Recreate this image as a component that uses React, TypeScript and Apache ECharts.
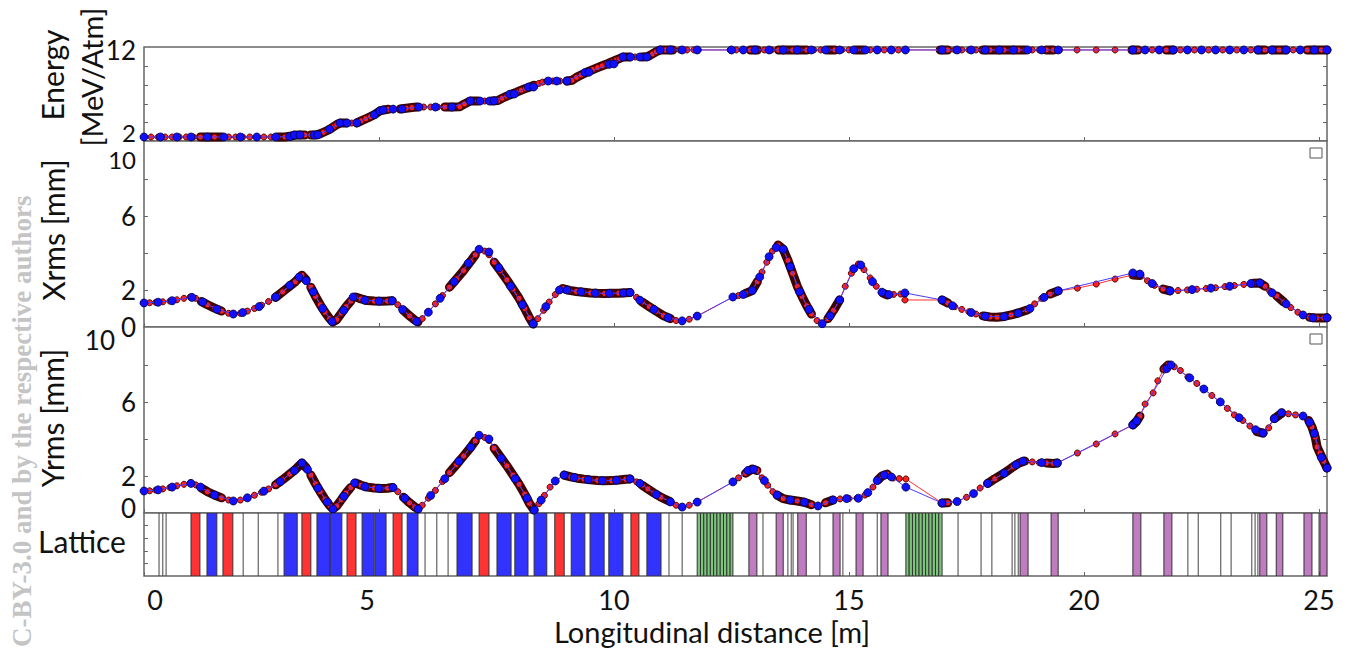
import React, { useEffect, useRef } from "react";
import * as echarts from "echarts";

const X_MAX = 25.17;
const xTickValues = [0, 5, 10, 15, 20, 25];
const energyAxisLabels = [12];
const xrmsAxisLabels = [0, 2, 6];
const yrmsAxisLabels = [2, 6];
const rmsMinorTicks = [2, 4, 6, 8];

// Energy [MeV/Atm] vs s [m]
const energyRed: number[][] = [
  [0, 2], [0.15, 2], [0.3, 2], [0.45, 2], [0.6, 2], [0.75, 2], [0.9, 2], [1.05, 2], [1.2, 2], [1.35, 2],
  [1.5, 2], [1.65, 2], [1.8, 2], [1.95, 2], [2.1, 2], [2.25, 2], [2.4, 2], [2.55, 2], [2.7, 2], [2.85, 2],
  [3.0, 2], [3.1, 2.08], [3.2, 2.2], [3.3, 2.23], [3.42, 2.23], [3.55, 2.23], [3.66, 2.24], [3.74, 2.35],
  [3.82, 2.55], [3.9, 2.75], [3.97, 2.95], [4.04, 3.2], [4.1, 3.42], [4.17, 3.6], [4.3, 3.6], [4.42, 3.6],
  [4.53, 3.62], [4.62, 3.85], [4.72, 4.1], [4.82, 4.35], [4.92, 4.62], [5.02, 5.0], [5.09, 5.1], [5.2, 5.18],
  [5.32, 5.2], [5.45, 5.22], [5.58, 5.3], [5.7, 5.38], [5.81, 5.44], [5.95, 5.44], [6.1, 5.44], [6.25, 5.44],
  [6.4, 5.44], [6.55, 5.44], [6.72, 5.48], [6.82, 5.8], [6.94, 6.13], [7.1, 6.13], [7.25, 6.13], [7.4, 6.13],
  [7.53, 6.2], [7.62, 6.45], [7.72, 6.7], [7.83, 6.94], [7.93, 7.15], [8.03, 7.38], [8.12, 7.58], [8.21, 7.74],
  [8.3, 7.95], [8.4, 8.15], [8.48, 8.3], [8.57, 8.43], [8.7, 8.43], [8.85, 8.43], [9.0, 8.43], [9.11, 8.52],
  [9.2, 8.85], [9.3, 9.12], [9.43, 9.47], [9.55, 9.75], [9.65, 9.97], [9.75, 10.18], [9.85, 10.39], [9.95, 10.62],
  [10.05, 10.85], [10.12, 11.02], [10.19, 11.19], [10.32, 11.19], [10.45, 11.19], [10.6, 11.19], [10.72, 11.25],
  [10.82, 11.55], [10.9, 11.8], [10.98, 12], [11.1, 12], [11.25, 12], [11.4, 12], [11.55, 12], [11.7, 12],
  [11.79, 12], [12.47, 12], [12.6, 12], [12.75, 12], [12.9, 12], [13.05, 12], [13.2, 12], [13.35, 12], [13.5, 12],
  [13.65, 12], [13.8, 12], [13.95, 12], [14.1, 12], [14.25, 12], [14.4, 12], [14.55, 12], [14.7, 12], [14.85, 12],
  [15.0, 12], [15.15, 12], [15.3, 12], [15.45, 12], [15.6, 12], [15.75, 12], [15.9, 12], [16.05, 12], [16.2, 12],
  [16.94, 12], [17.1, 12], [17.25, 12], [17.4, 12], [17.55, 12], [17.7, 12], [17.85, 12], [18.0, 12], [18.15, 12],
  [18.3, 12], [18.45, 12], [18.6, 12], [18.75, 12], [18.9, 12], [19.05, 12], [19.2, 12], [19.35, 12], [19.48, 12],
  [19.85, 12], [20.26, 12], [20.66, 12], [21.02, 12], [21.15, 12], [21.3, 12], [21.45, 12], [21.6, 12], [21.75, 12],
  [21.9, 12], [22.05, 12], [22.2, 12], [22.35, 12], [22.5, 12], [22.65, 12], [22.8, 12], [22.95, 12], [23.1, 12],
  [23.25, 12], [23.4, 12], [23.55, 12], [23.7, 12], [23.85, 12], [24.0, 12], [24.15, 12], [24.3, 12], [24.45, 12],
  [24.6, 12], [24.75, 12], [24.9, 12], [25.05, 12], [25.17, 12],
];

const energyBlue: number[][] = [
  [0, 2], [0.35, 2], [0.7, 2], [1.0, 2], [1.35, 2], [1.7, 2], [2.05, 2], [2.4, 2], [2.8, 2], [3.1, 2.05],
  [3.2, 2.23], [3.32, 2.23], [3.62, 2.23], [3.7, 2.25], [3.95, 2.9], [4.17, 3.6], [4.32, 3.6], [4.53, 3.62],
  [4.9, 4.55], [5.02, 5.0], [5.09, 5.1], [5.3, 5.2], [5.49, 5.22], [5.85, 5.44], [6.2, 5.44], [6.55, 5.44],
  [6.94, 6.13], [7.15, 6.13], [7.35, 6.13], [7.45, 6.15], [7.78, 6.9], [7.88, 6.94], [8.18, 7.74], [8.29, 7.74],
  [8.6, 8.43], [8.78, 8.43], [9.0, 8.43], [9.38, 9.4], [9.47, 9.45], [9.9, 10.35], [10.0, 10.4], [10.19, 11.19],
  [10.35, 11.19], [10.55, 11.19], [10.7, 11.19], [10.98, 12], [11.2, 12], [11.45, 12], [11.77, 12], [12.5, 12],
  [12.75, 12], [13.0, 12], [13.3, 12], [13.6, 12], [13.9, 12], [14.2, 12], [14.5, 12], [14.8, 12], [15.1, 12],
  [15.35, 12], [15.6, 12], [15.9, 12], [16.2, 12], [16.98, 12], [17.3, 12], [17.6, 12], [17.9, 12], [18.2, 12],
  [18.5, 12], [18.8, 12], [19.1, 12], [19.45, 12], [21.04, 12], [21.3, 12], [21.6, 12], [21.9, 12], [22.2, 12],
  [22.5, 12], [22.8, 12], [23.1, 12], [23.4, 12], [23.7, 12], [24.0, 12], [24.3, 12], [24.6, 12], [24.9, 12],
  [25.17, 12],
];

// Xrms [mm]
const xrmsRed: number[][] = [
  [0, 1.3], [0.12, 1.31], [0.25, 1.33], [0.4, 1.36], [0.55, 1.4], [0.7, 1.47], [0.85, 1.55], [0.98, 1.62],
  [1.1, 1.55], [1.22, 1.38], [1.35, 1.2], [1.5, 1.02], [1.65, 0.86], [1.8, 0.74], [1.9, 0.7], [2.05, 0.74],
  [2.2, 0.86], [2.35, 1.0], [2.5, 1.18], [2.65, 1.38], [2.8, 1.6], [2.95, 1.9], [3.1, 2.2], [3.22, 2.45],
  [3.36, 2.8], [3.45, 2.55], [3.55, 2.15], [3.65, 1.65], [3.75, 1.2], [3.85, 0.8], [3.95, 0.45], [4.02, 0.27],
  [4.1, 0.4], [4.2, 0.75], [4.3, 1.1], [4.4, 1.4], [4.5, 1.62], [4.62, 1.52], [4.75, 1.43], [4.9, 1.4],
  [5.05, 1.39], [5.18, 1.4], [5.28, 1.42], [5.4, 1.2], [5.52, 0.9], [5.65, 0.6], [5.76, 0.38], [5.83, 0.27],
  [5.92, 0.45], [6.05, 0.82], [6.2, 1.25], [6.35, 1.7], [6.5, 2.15], [6.65, 2.6], [6.8, 3.05], [6.95, 3.55],
  [7.05, 3.9], [7.13, 4.2], [7.25, 4.1], [7.34, 3.9], [7.45, 3.5], [7.58, 3.05], [7.72, 2.55], [7.85, 2.05],
  [7.98, 1.55], [8.1, 1.0], [8.2, 0.5], [8.28, 0.16], [8.38, 0.45], [8.5, 0.9], [8.62, 1.35], [8.75, 1.75],
  [8.91, 2.08], [9.05, 1.98], [9.2, 1.92], [9.35, 1.88], [9.5, 1.84], [9.65, 1.82], [9.8, 1.81], [9.95, 1.82],
  [10.1, 1.83], [10.25, 1.85], [10.34, 1.86], [10.48, 1.6], [10.6, 1.35], [10.75, 1.1], [10.9, 0.85],
  [11.05, 0.62], [11.2, 0.45], [11.32, 0.35], [11.45, 0.32], [11.6, 0.42], [11.77, 0.59], [12.53, 1.62],
  [12.65, 1.7], [12.8, 1.82], [12.94, 1.97], [13.05, 2.45], [13.15, 2.97], [13.25, 3.5], [13.37, 4.1],
  [13.49, 4.43], [13.6, 4.2], [13.7, 3.6], [13.8, 2.9], [13.9, 2.2], [14.0, 1.65], [14.1, 1.15], [14.2, 0.7],
  [14.32, 0.35], [14.43, 0.16], [14.55, 0.45], [14.67, 0.9], [14.8, 1.46], [14.92, 2.2], [15.05, 2.9],
  [15.2, 3.4], [15.32, 3.1], [15.45, 2.65], [15.58, 2.2], [15.72, 1.84], [15.81, 1.73], [15.95, 1.76],
  [16.1, 1.78], [16.19, 1.46], [16.98, 1.46], [17.1, 1.3], [17.25, 1.1], [17.4, 0.95], [17.55, 0.82],
  [17.7, 0.7], [17.85, 0.6], [18.0, 0.54], [18.15, 0.53], [18.3, 0.57], [18.45, 0.65], [18.6, 0.76],
  [18.79, 0.92], [18.95, 1.25], [19.1, 1.55], [19.28, 1.78], [19.45, 1.95], [19.86, 2.1], [20.26, 2.32],
  [20.66, 2.59], [21.04, 2.81], [21.19, 2.78], [21.35, 2.5], [21.5, 2.25], [21.68, 2.05], [21.83, 1.95],
  [22.0, 1.97], [22.2, 2.0], [22.4, 2.04], [22.6, 2.08], [22.8, 2.12], [23.0, 2.18], [23.2, 2.24], [23.4, 2.3],
  [23.6, 2.36], [23.74, 2.38], [23.85, 2.2], [23.95, 1.95], [24.1, 1.68], [24.25, 1.35], [24.4, 1.05],
  [24.55, 0.8], [24.66, 0.65], [24.8, 0.52], [24.95, 0.49], [25.1, 0.49], [25.17, 0.5],
];

const xrmsBlue: number[][] = [
  [0, 1.3], [0.3, 1.34], [0.6, 1.42], [1.02, 1.6], [1.25, 1.35], [1.55, 0.96], [1.9, 0.7], [2.1, 0.78],
  [2.45, 1.1], [2.8, 1.62], [3.1, 2.25], [3.3, 2.7], [3.45, 2.5], [3.6, 1.9], [3.8, 1.0], [4.0, 0.3],
  [4.25, 0.9], [4.45, 1.62], [4.7, 1.45], [5.0, 1.4], [5.28, 1.42], [5.5, 0.95], [5.8, 0.3], [6.05, 0.8],
  [6.3, 1.55], [6.6, 2.45], [6.9, 3.45], [7.13, 4.2], [7.34, 4.05], [7.55, 3.2], [7.8, 2.2], [8.05, 1.2],
  [8.28, 0.18], [8.55, 1.1], [8.84, 2.0], [9.0, 2.0], [9.3, 1.9], [9.6, 1.83], [9.9, 1.82], [10.2, 1.84],
  [10.34, 1.86], [10.55, 1.45], [10.85, 0.95], [11.15, 0.5], [11.45, 0.33], [11.77, 0.59], [12.53, 1.62],
  [12.75, 1.76], [12.94, 1.97], [13.1, 2.7], [13.3, 3.8], [13.45, 4.3], [13.6, 4.2], [13.75, 3.25],
  [13.95, 1.9], [14.15, 0.95], [14.43, 0.18], [14.6, 0.6], [14.8, 1.46], [15.1, 3.15], [15.25, 3.35],
  [15.5, 2.45], [15.7, 1.88], [15.85, 1.75], [16.19, 1.84], [16.98, 1.46], [17.2, 1.15], [17.6, 0.78],
  [17.9, 0.58], [18.3, 0.56], [18.6, 0.75], [18.85, 1.0], [19.15, 1.6], [19.45, 1.95], [21.04, 2.92],
  [21.19, 2.86], [21.45, 2.35], [21.83, 1.95], [22.3, 2.02], [22.7, 2.1], [23.1, 2.2], [23.55, 2.35],
  [23.74, 2.38], [24.0, 1.85], [24.3, 1.25], [24.66, 0.65], [24.87, 0.49], [25.17, 0.5],
];

// Yrms [mm]
const yrmsRed: number[][] = [
  [0, 1.19], [0.12, 1.2], [0.25, 1.24], [0.4, 1.3], [0.55, 1.38], [0.7, 1.47], [0.85, 1.55], [0.98, 1.62],
  [1.1, 1.52], [1.22, 1.35], [1.35, 1.15], [1.5, 0.97], [1.65, 0.82], [1.8, 0.7], [1.9, 0.65], [2.05, 0.7],
  [2.2, 0.82], [2.35, 0.96], [2.5, 1.12], [2.65, 1.3], [2.8, 1.52], [2.95, 1.8], [3.1, 2.1], [3.22, 2.35],
  [3.36, 2.7], [3.45, 2.45], [3.55, 2.05], [3.65, 1.58], [3.75, 1.15], [3.85, 0.75], [3.95, 0.4], [4.02, 0.22],
  [4.1, 0.38], [4.2, 0.72], [4.3, 1.08], [4.4, 1.38], [4.5, 1.62], [4.62, 1.5], [4.75, 1.4], [4.9, 1.35],
  [5.05, 1.33], [5.18, 1.34], [5.28, 1.38], [5.4, 1.15], [5.52, 0.85], [5.65, 0.55], [5.76, 0.33], [5.83, 0.22],
  [5.92, 0.42], [6.05, 0.8], [6.2, 1.22], [6.35, 1.7], [6.5, 2.18], [6.65, 2.62], [6.8, 3.08], [6.95, 3.55],
  [7.05, 3.9], [7.13, 4.2], [7.25, 4.08], [7.34, 3.92], [7.45, 3.5], [7.58, 3.05], [7.72, 2.55], [7.85, 2.05],
  [7.98, 1.55], [8.1, 1.02], [8.2, 0.52], [8.3, 0.16], [8.4, 0.5], [8.52, 0.95], [8.64, 1.4], [8.75, 1.73],
  [8.94, 2.05], [9.08, 1.95], [9.22, 1.88], [9.36, 1.83], [9.5, 1.79], [9.65, 1.76], [9.8, 1.74], [9.95, 1.75],
  [10.1, 1.78], [10.25, 1.82], [10.34, 1.84], [10.48, 1.68], [10.6, 1.5], [10.72, 1.3], [10.85, 1.08],
  [11.0, 0.85], [11.19, 0.62], [11.32, 0.42], [11.45, 0.32], [11.6, 0.42], [11.77, 0.59], [12.53, 1.68],
  [12.65, 1.9], [12.8, 2.15], [12.94, 2.38], [13.04, 2.3], [13.15, 1.9], [13.27, 1.5], [13.38, 1.15],
  [13.47, 0.97], [13.6, 0.78], [13.75, 0.7], [13.9, 0.65], [14.05, 0.58], [14.2, 0.45], [14.34, 0.38],
  [14.5, 0.55], [14.66, 0.7], [14.81, 0.76], [15.0, 0.78], [15.17, 0.8], [15.34, 0.97], [15.51, 1.4],
  [15.62, 1.8], [15.7, 2.0], [15.81, 2.1], [15.94, 1.89], [16.07, 1.86], [16.21, 1.84], [16.98, 0.54],
  [17.1, 0.55], [17.3, 0.62], [17.5, 0.85], [17.65, 1.05], [17.79, 1.35], [17.95, 1.6], [18.1, 1.85],
  [18.3, 2.15], [18.49, 2.49], [18.62, 2.7], [18.74, 2.81], [18.9, 2.76], [19.05, 2.72], [19.2, 2.7],
  [19.35, 2.68], [19.43, 2.7], [19.86, 3.24], [20.26, 3.73], [20.66, 4.27], [21.04, 4.76], [21.12, 4.95],
  [21.19, 5.24], [21.3, 5.89], [21.47, 6.49], [21.57, 7.14], [21.7, 7.78], [21.79, 8.0], [21.92, 7.9],
  [22.05, 7.7], [22.21, 7.35], [22.4, 7.0], [22.55, 6.7], [22.72, 6.35], [22.89, 6.0], [23.05, 5.65],
  [23.2, 5.3], [23.38, 5.0], [23.53, 4.7], [23.68, 4.4], [23.81, 4.32], [23.93, 4.6], [24.05, 5.1],
  [24.21, 5.4], [24.35, 5.36], [24.5, 5.3], [24.66, 5.24], [24.78, 5.0], [24.85, 4.65], [24.92, 4.1],
  [24.96, 3.57], [25.02, 3.24], [25.1, 2.8], [25.17, 2.43],
];

const yrmsBlue: number[][] = [
  [0, 1.19], [0.3, 1.25], [0.6, 1.4], [1.0, 1.6], [1.2, 1.4], [1.5, 0.97], [1.9, 0.65], [2.2, 0.82],
  [2.55, 1.18], [2.9, 1.7], [3.2, 2.3], [3.36, 2.7], [3.48, 2.35], [3.7, 1.35], [3.9, 0.6], [4.02, 0.22],
  [4.25, 0.9], [4.48, 1.62], [4.7, 1.42], [5.0, 1.33], [5.3, 1.38], [5.55, 0.8], [5.83, 0.22], [6.1, 0.95],
  [6.4, 1.85], [6.7, 2.8], [6.95, 3.55], [7.13, 4.2], [7.34, 4.0], [7.6, 2.95], [7.9, 1.85], [8.15, 0.8],
  [8.3, 0.16], [8.45, 0.7], [8.75, 1.73], [8.94, 2.05], [9.15, 1.92], [9.45, 1.8], [9.75, 1.75], [10.05, 1.77],
  [10.34, 1.84], [10.55, 1.6], [10.9, 1.0], [11.2, 0.6], [11.45, 0.32], [11.77, 0.59], [12.53, 1.68],
  [12.85, 2.3], [12.97, 2.36], [13.2, 1.75], [13.47, 0.97], [13.75, 0.7], [14.05, 0.58], [14.34, 0.38],
  [14.66, 0.7], [14.95, 0.78], [15.2, 0.8], [15.4, 1.1], [15.6, 1.75], [15.75, 2.05], [15.9, 1.95],
  [16.21, 1.4], [16.98, 0.54], [17.3, 0.62], [17.65, 1.05], [17.95, 1.6], [18.3, 2.15], [18.55, 2.6],
  [18.7, 2.8], [19.1, 2.72], [19.43, 2.7], [21.04, 4.76], [21.12, 4.98], [21.76, 7.8], [21.85, 8.0],
  [22.25, 7.3], [22.55, 6.7], [22.9, 6.0], [23.3, 5.15], [23.65, 4.5], [23.81, 4.32], [24.05, 5.1],
  [24.2, 5.42], [24.66, 5.24], [24.8, 4.9], [24.9, 4.3], [25.05, 3.0], [25.17, 2.43],
];

// s-ranges [m] where the simulation output is densely sampled (dark overlapping markers)
const denseRanges: number[][] = [
  [1.2, 1.75], [2.8, 3.45], [3.55, 4.4], [4.5, 5.3], [5.45, 5.9], [6.4, 7.1], [7.36, 8.3], [8.9, 10.4],
  [10.55, 11.3], [12.8, 13.05], [13.4, 14.2], [14.5, 14.8], [15.1, 15.3], [15.62, 15.88], [16.94, 17.2],
  [17.8, 18.85], [19.2, 19.45], [21.0, 21.22], [21.62, 21.9], [23.6, 23.92], [24.0, 24.3], [24.75, 25.17],
];

// Lattice elements: [start m, end m, kind]  F = focusing quad (red), D = defocusing quad (blue),
// C = accelerating cavity cell (green), S = solenoid / steerer (purple)
const latticeElements: [number, number, string][] = [
  [1.0, 1.19, "F"], [1.34, 1.55, "D"], [1.68, 1.89, "F"], [2.98, 3.26, "D"], [3.36, 3.55, "F"],
  [3.68, 3.96, "D"], [3.96, 4.21, "D"], [4.32, 4.51, "F"], [4.64, 4.89, "D"], [4.91, 5.15, "D"],
  [5.3, 5.49, "F"], [5.6, 5.83, "D"], [6.66, 6.98, "D"], [7.13, 7.34, "F"], [7.51, 7.81, "D"],
  [7.89, 8.17, "D"], [8.3, 8.57, "D"], [8.74, 8.94, "F"], [9.09, 9.38, "D"], [9.49, 9.79, "D"],
  [9.89, 10.19, "D"], [10.36, 10.53, "F"], [10.7, 11.0, "D"],
  [11.77, 11.84, "C"], [11.84, 11.91, "C"], [11.91, 11.98, "C"], [11.98, 12.05, "C"], [12.05, 12.12, "C"],
  [12.12, 12.19, "C"], [12.19, 12.26, "C"], [12.26, 12.33, "C"], [12.33, 12.4, "C"], [12.4, 12.47, "C"],
  [12.47, 12.53, "C"],
  [12.87, 13.04, "S"], [13.45, 13.6, "S"], [13.91, 14.09, "S"], [14.66, 14.81, "S"], [15.15, 15.3, "S"],
  [15.68, 15.83, "S"],
  [16.21, 16.28, "C"], [16.28, 16.35, "C"], [16.35, 16.42, "C"], [16.42, 16.49, "C"], [16.49, 16.56, "C"],
  [16.56, 16.63, "C"], [16.63, 16.7, "C"], [16.7, 16.77, "C"], [16.77, 16.84, "C"], [16.84, 16.91, "C"],
  [16.91, 16.98, "C"],
  [18.64, 18.81, "S"], [19.3, 19.45, "S"], [21.04, 21.21, "S"], [21.7, 21.87, "S"], [23.74, 23.89, "S"],
  [24.09, 24.23, "S"], [24.68, 24.85, "S"], [25.02, 25.17, "S"],
];

// Drift-section boundaries [m]
const driftEdges = [
  0.32, 0.4, 0.47, 2.11, 2.43, 2.85, 5.98, 6.23, 6.47, 11.17, 11.45, 13.17, 13.7, 13.77, 13.81, 14.38,
  14.87, 15.6, 17.32, 17.81, 18.04, 18.47, 18.53, 18.6, 22.21, 22.43, 22.91, 23.13, 23.57, 23.64, 23.7, 25.0,
];

const kindColors: Record<string, string> = {
  F: "#ff3333",
  D: "#3333ff",
  C: "#7cc67c",
  S: "#c07cc0",
};

const FONT = "Lato";
const TEXT = "#111111";
const BORDER = "#666666";

function denseOnly(data: number[][]) {
  const out: any[] = [];
  denseRanges.forEach(([a, b]) => {
    data.forEach((p) => {
      if (p[0] >= a && p[0] <= b) out.push(p);
    });
    out.push([b, "-"]);
  });
  return out;
}

function buildOption() {
  const grids = [
    { left: 144, top: 47, width: 1183, height: 94 },
    { left: 144, top: 141, width: 1183, height: 186 },
    { left: 144, top: 327, width: 1183, height: 186 },
    { left: 144, top: 513, width: 1183, height: 63 },
  ].map((g) => ({ ...g, show: true, borderColor: BORDER, borderWidth: 1.5, backgroundColor: "#ffffff" }));

  const xAxis = [0, 1, 2, 3].map((i) => ({
    type: "value",
    gridIndex: i,
    min: 0,
    max: X_MAX,
    splitLine: { show: false },
    axisLine: { show: false },
    axisTick: { show: true, inside: true, length: 4, customValues: xTickValues, lineStyle: { color: BORDER } },
    axisLabel:
      i === 3
        ? {
            show: true,
            customValues: xTickValues,
            fontSize: 27,
            fontFamily: FONT,
            color: TEXT,
            margin: 11,
            lineHeight: 24,
            formatter: (v: number) => (v === 0 ? "{r|0}" : v === 5 ? "{l|5}" : String(v)),
            rich: {
              r: { padding: [0, 0, 0, 22], fontSize: 27, fontFamily: FONT, color: TEXT, lineHeight: 24 },
              l: { padding: [0, 24, 0, 0], fontSize: 27, fontFamily: FONT, color: TEXT, lineHeight: 24 },
            },
          }
        : { show: false },
  }));

  const tickStyle = { show: true, inside: true, length: 4, lineStyle: { color: BORDER } };
  const labelBase = { fontSize: 26, fontFamily: FONT, color: TEXT, margin: 8, lineHeight: 20 };

  const yLeft = [
    {
      type: "value", gridIndex: 0, min: 1.54, max: 12.34,
      splitLine: { show: false }, axisLine: { show: false },
      axisTick: { ...tickStyle, customValues: [3.72, 5.79, 7.97, 10.16] },
      axisLabel: { ...labelBase, customValues: energyAxisLabels },
    },
    {
      type: "value", gridIndex: 1, min: 0, max: 10.05,
      splitLine: { show: false }, axisLine: { show: false },
      axisTick: { ...tickStyle, customValues: rmsMinorTicks },
      axisLabel: { ...labelBase, customValues: xrmsAxisLabels },
    },
    {
      type: "value", gridIndex: 2, min: 0, max: 10.05,
      splitLine: { show: false }, axisLine: { show: false },
      axisTick: { ...tickStyle, customValues: rmsMinorTicks },
      axisLabel: { ...labelBase, customValues: yrmsAxisLabels },
    },
    {
      type: "value", gridIndex: 3, min: 0, max: 1,
      splitLine: { show: false }, axisLine: { show: false },
      axisTick: { ...tickStyle, customValues: [0.2, 0.4, 0.6, 0.8] },
      axisLabel: { show: false },
    },
  ];
  const yRight = yLeft.map((a) => ({
    ...a,
    position: "right",
    axisLabel: { show: false },
  }));

  const dark = (data: number[][], i: number) => ({
    type: "line",
    xAxisIndex: i,
    yAxisIndex: i,
    data: denseOnly(data),
    silent: true,
    symbol: "none",
    connectNulls: false,
    z: 1,
    lineStyle: { color: "#3a0505", width: 9, cap: "round", join: "round" },
  });
  const red = (data: number[][], i: number) => ({
    type: "line",
    xAxisIndex: i,
    yAxisIndex: i,
    data,
    silent: true,
    showAllSymbol: true,
    symbol: "circle",
    symbolSize: 6,
    z: 2,
    lineStyle: { color: "#ff3030", width: 1 },
    itemStyle: { color: "#ff2020", borderColor: "#5a0000", borderWidth: 1 },
  });
  const blue = (data: number[][], i: number) => ({
    type: "line",
    xAxisIndex: i,
    yAxisIndex: i,
    data,
    silent: true,
    showAllSymbol: true,
    symbol: "circle",
    symbolSize: 8,
    z: 3,
    lineStyle: { color: "#4a3cff", width: 1 },
    itemStyle: { color: "#1010ff", borderColor: "#00004a", borderWidth: 0.8 },
  });

  const latticeSeries = {
    type: "custom",
    xAxisIndex: 3,
    yAxisIndex: 3,
    silent: true,
    clip: true,
    z: 3,
    data: latticeElements.map((e, idx) => [e[0], e[1], idx]),
    renderItem: (_p: any, api: any) => {
      const s = api.value(0);
      const e = api.value(1);
      const el = latticeElements[api.value(2)];
      const p0 = api.coord([s, 1]);
      const p1 = api.coord([e, 0]);
      return {
        type: "rect",
        shape: { x: p0[0], y: p0[1], width: p1[0] - p0[0], height: p1[1] - p0[1] },
        style: { fill: kindColors[el[2]], stroke: "#333333", lineWidth: 1 },
      };
    },
  };

  const driftSeries = {
    type: "custom",
    xAxisIndex: 3,
    yAxisIndex: 3,
    silent: true,
    clip: true,
    z: 2,
    data: driftEdges.map((x) => [x]),
    renderItem: (_p: any, api: any) => {
      const x = api.value(0);
      const a = api.coord([x, 1]);
      const b = api.coord([x, 0]);
      return {
        type: "line",
        shape: { x1: a[0], y1: a[1], x2: b[0], y2: b[1] },
        style: { stroke: "#444444", lineWidth: 1 },
      };
    },
  };

  const rotText = (text: string, x: number, y: number, size = 30) => ({
    type: "text",
    x,
    y,
    rotation: Math.PI / 2,
    style: {
      text,
      fontSize: size,
      fontFamily: FONT,
      fill: TEXT,
      align: "center",
      verticalAlign: "middle",
      textAlign: "center",
      textVerticalAlign: "middle",
    },
  });

  // tick labels that the original figure nudges away from their neighbours
  const tickText = (text: string, right: number, y: number, size = 26) => ({
    type: "text",
    x: right,
    y,
    style: {
      text,
      fontSize: size,
      fontFamily: FONT,
      fill: TEXT,
      lineHeight: 20,
      align: "right",
      verticalAlign: "middle",
      textAlign: "right",
      textVerticalAlign: "middle",
    },
  });

  const graphic = [
    {
      type: "text",
      x: 22,
      y: 647,
      rotation: Math.PI / 2,
      z: 0,
      style: {
        text: "C-BY-3.0 and by the respective authors",
        fontSize: 27,
        fontWeight: "bold",
        fontFamily: "Liberation Serif",
        fill: "#c4c4c4",
        align: "left",
        verticalAlign: "middle",
        textAlign: "left",
        textVerticalAlign: "middle",
      },
    },
    rotText("Energy", 52, 75),
    rotText("[MeV/Atm]", 91, 77, 29),
    rotText("Xrms [mm]", 53, 230),
    rotText("Yrms [mm]", 52, 418),
    tickText("2", 136, 132, 24),
    tickText("10", 136, 159, 24),
    tickText("10", 115, 340),
    tickText("0", 136, 508),
    {
      type: "text",
      x: 82,
      y: 541,
      style: {
        text: "Lattice", fontSize: 30, fontFamily: FONT, fill: TEXT,
        align: "center", verticalAlign: "middle", textAlign: "center", textVerticalAlign: "middle",
      },
    },
    {
      type: "text",
      x: 712,
      y: 631,
      style: {
        text: "Longitudinal distance [m]", fontSize: 29, fontFamily: FONT, fill: TEXT, lineHeight: 32,
        align: "center", verticalAlign: "middle", textAlign: "center", textVerticalAlign: "middle",
      },
    },
    {
      type: "rect", x: 1310, y: 148, z: 10,
      shape: { x: 0, y: 0, width: 12, height: 10 },
      style: { fill: "#ffffff", stroke: "#555555", lineWidth: 1 },
    },
    {
      type: "rect", x: 1310, y: 334, z: 10,
      shape: { x: 0, y: 0, width: 12, height: 10 },
      style: { fill: "#ffffff", stroke: "#555555", lineWidth: 1 },
    },
  ];

  return {
    animation: false,
    backgroundColor: "#ffffff",
    grid: grids,
    xAxis,
    yAxis: [...yLeft, ...yRight],
    graphic,
    series: [
      dark(energyRed, 0),
      red(energyRed, 0),
      blue(energyBlue, 0),
      dark(xrmsRed, 1),
      red(xrmsRed, 1),
      blue(xrmsBlue, 1),
      dark(yrmsRed, 2),
      red(yrmsRed, 2),
      blue(yrmsBlue, 2),
      driftSeries,
      latticeSeries,
    ],
  };
}

export default function App() {
  const ref = useRef<HTMLDivElement>(null);
  useEffect(() => {
    document.body.style.margin = "0";
    const chart = echarts.init(ref.current!, null, { renderer: "svg" });
    chart.setOption(buildOption() as any);
    return () => chart.dispose();
  }, []);
  return <div ref={ref} style={{ position: "absolute", left: 0, top: 0, width: 1350, height: 650 }} />;
}
